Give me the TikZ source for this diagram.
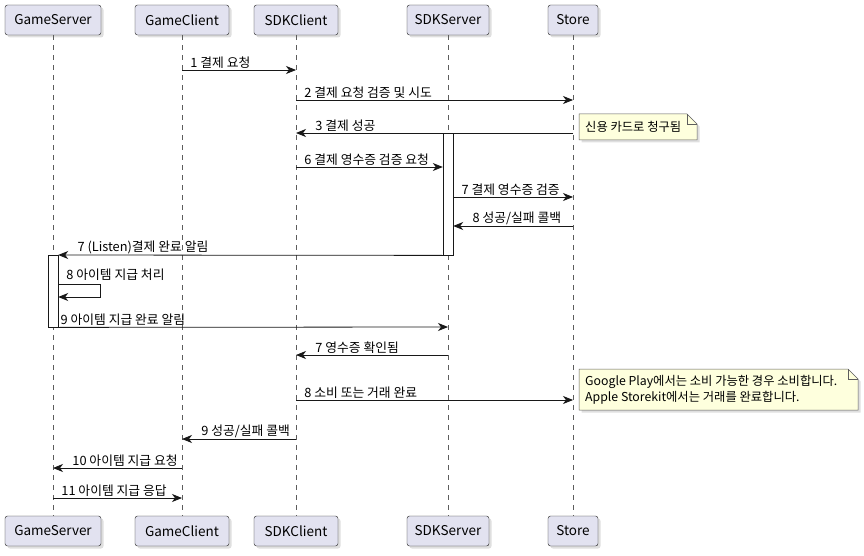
\documentclass[tikz,border=0pt]{standalone}
\usepackage{fontspec}
\setmainfont{Noto Sans CJK KR}
\usepackage{tikz}
\usetikzlibrary{arrows.meta,shadows}

\definecolor{partfill}{HTML}{E2E2F0}
\definecolor{partline}{HTML}{181818}
\definecolor{notefill}{HTML}{FEFFDD}

\tikzset{
	participant/.style={draw=partline,fill=partfill,rounded corners=2.5,minimum height=30,
		inner xsep=4,font=\fontsize{13.5}{15}\selectfont,
		drop shadow={shadow xshift=2.5pt,shadow yshift=-2.5pt,opacity=0.25}},
	lifeline/.style={draw=partline!70,dashed,dash pattern=on 5pt off 5pt,line width=0.5pt},
	act/.style={draw=partline,fill=white,minimum width=10,inner sep=0},
	msg/.style={draw=partline,line width=0.8pt,-{Stealth[length=10pt,width=8pt,inset=3pt]}},
	lbl/.style={anchor=south west,inner sep=1pt,font=\fontsize{12.8}{14}\selectfont},
	note/.style={draw=partline!70,fill=notefill,line width=0.5pt,
		drop shadow={shadow xshift=2.5pt,shadow yshift=-2.5pt,opacity=0.25}}
}

\begin{document}
\begin{tikzpicture}[x=1pt,y=-1pt]
	\useasboundingbox (0,0) rectangle (864,556);
	% participants, top and bottom
	\node[participant,minimum width=96] (gs) at (53,20) {GameServer};
	\node[participant,minimum width=94] (gc) at (182,20) {GameClient};
	\node[participant,minimum width=84] (sc) at (296,20) {SDKClient};
	\node[participant,minimum width=82] (ss) at (448,20) {SDKServer};
	\node[participant,minimum width=50] (st) at (573,20) {Store};
	\node[participant,minimum width=96] (gsb) at (53,531) {GameServer};
	\node[participant,minimum width=94] (gcb) at (182,531) {GameClient};
	\node[participant,minimum width=84] (scb) at (296,531) {SDKClient};
	\node[participant,minimum width=82] (ssb) at (448,531) {SDKServer};
	\node[participant,minimum width=50] (stb) at (573,531) {Store};
	\foreach \a/\b in {gs/gsb,gc/gcb,sc/scb,ss/ssb,st/stb}
		\draw[lifeline] (\a) -- (\b);
	% activations
	\node[act,minimum height=122,anchor=north] (act1) at (ss |- 0,133) {};
	\node[act,minimum height=72,anchor=north] (act2) at (gs |- 0,255) {};
	% messages
	\draw[msg] (gc |- 0,70) -- (sc |- 0,70) node[lbl,at start,xshift=7] {1 결제 요청};
	\draw[msg] (sc |- 0,100) -- (st |- 0,100) node[lbl,at start,xshift=7] {2 결제 요청 검증 및 시도};
	\draw[msg] (st |- 0,133) -- (sc |- 0,133) node[lbl,xshift=18] {3 결제 성공};
	\draw[msg] (sc |- 0,167) -- (act1.west |- 0,167) node[lbl,at start,xshift=7] {6 결제 영수증 검증 요청};
	\draw[msg] (act1.east |- 0,197) -- (st |- 0,197) node[lbl,at start,xshift=7] {7 결제 영수증 검증};
	\draw[msg] (st |- 0,226) -- (act1.east |- 0,226) node[lbl,xshift=18] {8 성공/실패 콜백};
	\draw[msg] (act1.south west) -- (act2.north east) node[lbl,xshift=18] {7 (Listen)결제 완료 알림};
	\draw[msg] (act2.east |- 0,284) -- ++(42,0) |- (act2.east |- 0,297);
	\node[lbl] (self) at ([xshift=7]act2.east |- 0,282) {8 아이템 지급 처리};
	\draw[msg] (act2.south east) -- (ss |- 0,327) node[lbl,at start,xshift=1] {9 아이템 지급 완료 알림};
	\draw[msg] (ss |- 0,355) -- (sc |- 0,355) node[lbl,xshift=18] {7 영수증 확인됨};
	\draw[msg] (sc |- 0,400) -- (st |- 0,400) node[lbl,at start,xshift=7] {8 소비 또는 거래 완료};
	\draw[msg] (sc |- 0,439) -- (gc |- 0,439) node[lbl,xshift=18] {9 성공/실패 콜백};
	\draw[msg] (gc |- 0,468) -- (gs |- 0,468) node[lbl,xshift=18] {10 아이템 지급 요청};
	\draw[msg] (gs |- 0,498) -- (gc |- 0,498) node[lbl,at start,xshift=7] {11 아이템 지급 응답};
	% notes
	\draw[note] (579,114) -- (687,114) -- (697,124) -- (697,140) -- (579,140) -- cycle;
	\draw[partline!70,line width=0.5pt] (687,114) -- (687,124) -- (697,124);
	\node[anchor=west,inner sep=0,font=\fontsize{12.3}{14}\selectfont] (n1) at (585,127) {신용 카드로 청구됨};
	\draw[note] (579,369) -- (848,369) -- (858,379) -- (858,410) -- (579,410) -- cycle;
	\draw[partline!70,line width=0.5pt] (848,369) -- (848,379) -- (858,379);
	\node[anchor=west,inner sep=0,align=left,font=\fontsize{12.3}{16}\selectfont] (n2) at (585,389.5)
		{Google Play에서는 소비 가능한 경우 소비합니다.\\Apple Storekit에서는 거래를 완료합니다.};
\end{tikzpicture}
\end{document}
